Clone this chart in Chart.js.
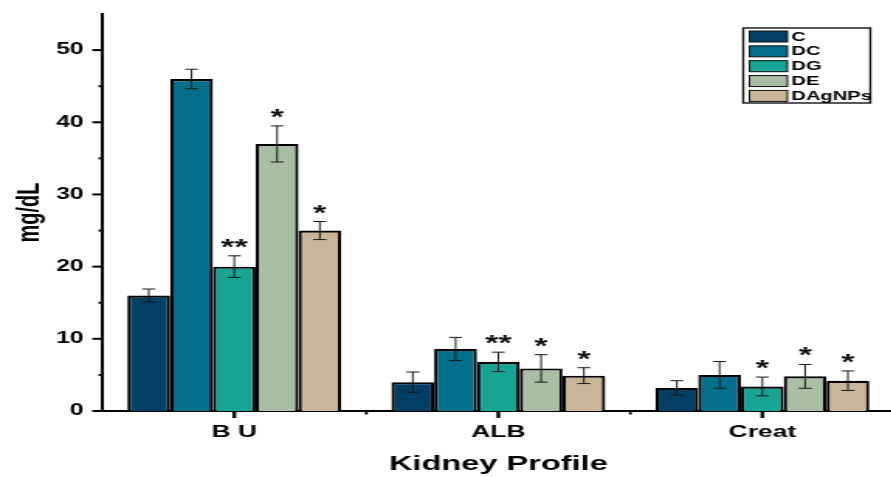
<!DOCTYPE html>
<html>
<head>
<meta charset="utf-8">
<script src="https://cdn.jsdelivr.net/npm/chart.js@4"></script>
<style>
  html, body { margin: 0; padding: 0; background: #fff; overflow: hidden; }
  #wrap { width: 891px; height: 477px; overflow: hidden; position: relative; }
  #stage { position: absolute; left: 0; top: 0; width: 577px; height: 477px; transform: scaleX(1.55); transform-origin: 0 0; }
</style>
</head>
<body>
<div id="wrap"><div id="stage"><canvas id="c" width="577" height="477"></canvas></div></div>
<script>
// Kidney profile parameters per treatment group (mean ± SD, mg/dL)
const categories = ['B U', 'ALB', 'Creat'];
const groups = ['C', 'DC', 'DG', 'DE', 'DAgNPs'];
const colors = ['#033f65', '#046f8b', '#16a595', '#a9bea5', '#c9b598'];

const valC      = [16.0, 4.0, 3.2];
const valDC     = [46.0, 8.6, 5.0];
const valDG     = [20.0, 6.8, 3.4];
const valDE     = [37.0, 5.9, 4.8];
const valDAgNPs = [25.0, 4.9, 4.2];

const errC      = [0.9, 1.4, 1.0];
const errDC     = [1.35, 1.6, 1.85];
const errDG     = [1.5, 1.35, 1.3];
const errDE     = [2.5, 1.9, 1.65];
const errDAgNPs = [1.25, 1.1, 1.35];

const sigC      = ['', '', ''];
const sigDC     = ['', '', ''];
const sigDG     = ['**', '**', '*'];
const sigDE     = ['*', '*', '*'];
const sigDAgNPs = ['*', '*', '*'];

const yTicks = [0, 10, 20, 30, 40, 50];

const values = [valC, valDC, valDG, valDE, valDAgNPs];
const errors = [errC, errDC, errDG, errDE, errDAgNPs];
const signif = [sigC, sigDC, sigDG, sigDE, sigDAgNPs];

const FONT = '"Liberation Sans", Arial, sans-serif';

// Error bars, significance marks, axis tick marks and the boxed legend
const decorations = {
  id: 'decorations',
  afterDatasetsDraw(chart) {
    const ctx = chart.ctx;
    const y = chart.scales.y, x = chart.scales.x;
    const area = chart.chartArea;
    ctx.save();
    // error bars
    values.forEach((vals, di) => {
      const meta = chart.getDatasetMeta(di);
      vals.forEach((v, i) => {
        const bx = meta.data[i].x;
        const e = errors[di][i];
        const top = y.getPixelForValue(v + e);
        const bot = y.getPixelForValue(v - e);
        ctx.strokeStyle = '#1a1a1a';
        ctx.lineWidth = 1;
        ctx.beginPath();
        ctx.moveTo(bx, top); ctx.lineTo(bx, bot);
        ctx.moveTo(bx - 4.2, top); ctx.lineTo(bx + 4.2, top);
        ctx.moveTo(bx - 4.2, bot); ctx.lineTo(bx + 4.2, bot);
        ctx.stroke();
        const s = signif[di][i];
        if (s) {
          ctx.fillStyle = '#111';
          ctx.font = 'bold 22px ' + FONT;
          ctx.textAlign = 'center';
          ctx.textBaseline = 'alphabetic';
          ctx.fillText(s, bx, top - 2);
        }
      });
    });
    // y axis tick marks (major every 10, minor every 5)
    ctx.strokeStyle = '#000';
    for (let v = 0; v <= 50; v += 5) {
      const py = y.getPixelForValue(v);
      const major = v % 10 === 0;
      ctx.lineWidth = 2;
      ctx.beginPath();
      ctx.moveTo(area.left, py);
      ctx.lineTo(area.left - (major ? 6.5 : 2.5), py);
      ctx.stroke();
    }
    // x axis tick marks: major at categories, minor between them
    for (let i = 0; i < categories.length; i++) {
      const px = x.getPixelForValue(i);
      ctx.lineWidth = 2.4;
      ctx.beginPath();
      ctx.moveTo(px, area.bottom); ctx.lineTo(px, area.bottom + 7);
      ctx.stroke();
      if (i < categories.length - 1) {
        const mx = (px + x.getPixelForValue(i + 1)) / 2;
        ctx.lineWidth = 1.8;
        ctx.beginPath();
        ctx.moveTo(mx, area.bottom); ctx.lineTo(mx, area.bottom + 3.5);
        ctx.stroke();
      }
    }
    // legend box
    const lx = 479.5, ly = 28, lw = 82, lh = 75;
    ctx.lineWidth = 1.4;
    ctx.strokeStyle = '#111';
    ctx.strokeRect(lx, ly, lw, lh);
    groups.forEach((g, k) => {
      const cy = 36.5 + k * 14.85;
      ctx.fillStyle = colors[k];
      ctx.fillRect(483.5, cy - 5.5, 24.5, 11);
      ctx.strokeStyle = '#111';
      ctx.lineWidth = 1;
      ctx.strokeRect(483.5, cy - 5.5, 24.5, 11);
      ctx.fillStyle = '#000';
      ctx.font = 'bold 13px ' + FONT;
      ctx.textAlign = 'left';
      ctx.textBaseline = 'middle';
      ctx.fillText(g, 510.5, cy + 0.5);
    });
    ctx.restore();
  }
};

new Chart(document.getElementById('c'), {
  type: 'bar',
  data: {
    labels: categories,
    datasets: groups.map((g, k) => ({
      label: g,
      data: values[k],
      backgroundColor: colors[k],
      borderColor: '#000',
      borderWidth: 2.2,
      categoryPercentage: 0.81,
      barPercentage: 1.0
    }))
  },
  options: {
    responsive: false,
    animation: false,
    devicePixelRatio: 1,
    layout: { padding: { top: 14, left: 0, right: 0, bottom: 0 } },
    plugins: { legend: { display: false }, tooltip: { enabled: false } },
    scales: {
      x: {
        grid: { display: false, drawTicks: false },
        border: { display: true, color: '#000', width: 2 },
        ticks: { color: '#000', font: { family: FONT, size: 17, weight: 'bold' }, padding: 11, maxRotation: 0 },
        title: { display: true, text: 'Kidney Profile', color: '#000', font: { family: FONT, size: 21, weight: 'bold' }, padding: { top: 0, bottom: 0 } },
        afterFit(scale) { scale.height = 66; scale.paddingLeft = 0; scale.paddingRight = 0; }
      },
      y: {
        min: 0, max: 55,
        grid: { display: false, drawTicks: false },
        border: { display: true, color: '#000', width: 2 },
        ticks: { color: '#000', font: { family: FONT, size: 16, weight: 'bold' }, padding: 12, stepSize: 10 },
        afterBuildTicks(scale) { scale.ticks = yTicks.map(v => ({ value: v })); },
        title: { display: true, text: 'mg/dL', color: '#000', font: { family: FONT, size: 20, weight: 'bold' }, padding: { top: 7, bottom: 0 } },
        afterFit(scale) { scale.width = 66; scale.paddingTop = 0; scale.paddingBottom = 0; }
      }
    }
  },
  plugins: [decorations]
});
</script>
</body>
</html>
